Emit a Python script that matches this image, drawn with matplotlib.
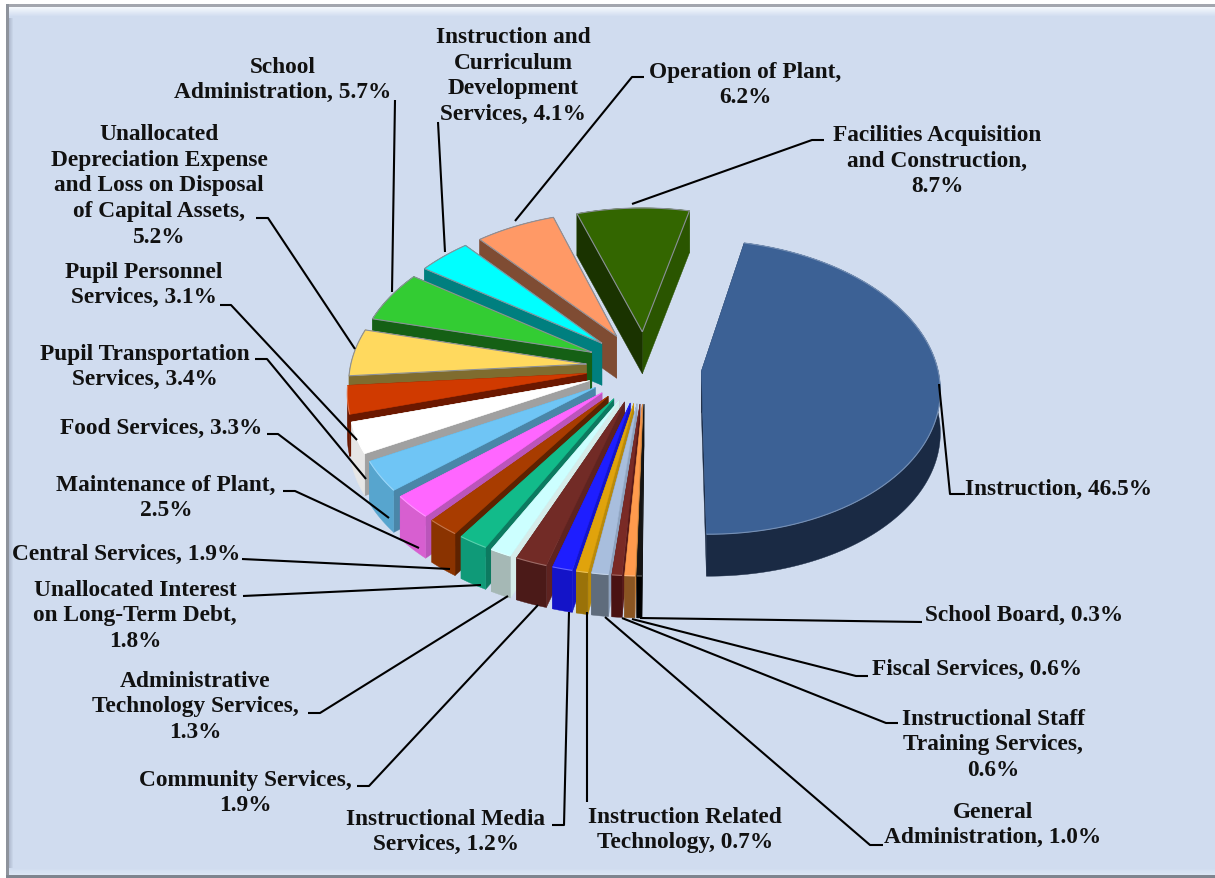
import numpy as np
import matplotlib
matplotlib.use("Agg")
import matplotlib.pyplot as plt
from matplotlib.colors import to_rgb
from matplotlib.patches import Polygon, Rectangle

# Share of total expenses by function, clockwise from the largest slice.
# A name ending in a line break puts the percentage on a line of its own.
names = [
    "Instruction, ", "School Board, ", "Fiscal Services, ",
    "Instructional Staff\nTraining Services,\n", "General\nAdministration, ",
    "Instruction Related\nTechnology, ", "Instructional Media\nServices, ",
    "Community Services,\n", "Administrative\nTechnology Services,\n",
    "Unallocated Interest\non Long-Term Debt,\n", "Central Services, ",
    "Maintenance of Plant,\n", "Food Services, ",
    "Pupil Transportation\nServices, ", "Pupil Personnel\nServices, ",
    "Unallocated\nDepreciation Expense\nand Loss on Disposal\nof Capital Assets,\n",
    "School\nAdministration, ", "Instruction and\nCurriculum\nDevelopment\nServices, ",
    "Operation of Plant,\n", "Facilities Acquisition\nand Construction,\n",
]
shares = [46.5, 0.3, 0.6, 0.6, 1.0, 0.7, 1.2, 1.9, 1.3, 1.8, 1.9, 2.5, 3.3, 3.4,
          3.1, 5.2, 5.7, 4.1, 6.2, 8.7]

top_colors = ["#3C6195", "#141414", "#FF9A4D", "#7A2A25", "#A8BEDD", "#E0A30C",
              "#1E1EFF", "#722B26", "#CCFFFF", "#12BB8A", "#A83C00", "#FF66FF",
              "#6FC5F5", "#FFFFFF", "#D03A00", "#FFD95E", "#33CC33", "#00FFFF",
              "#FF9966", "#336600"]
rim_colors = ["#1A2A44", "#000000", "#8A5522", "#4A1212", "#5F6C7C", "#9A7209",
              "#1414C8", "#4B1A18", "#A5B8B5", "#0F9A78", "#8A3300", "#D75FD0",
              "#57A5CE", "#E6E6E6", "#6B1800", "#7F6C2F", "#156015", "#007F7F",
              "#7F4C33", "#2A5500"]
wall_colors = ["#1A2A44", "#000000", "#C98038", "#5A1A18", "#8FA3BF", "#B98A0A",
               "#1414C8", "#5E2320", "#D5ECEA", "#0C7A60", "#5E2200", "#BB55BB",
               "#4A86A8", "#A0A0A0", "#6B1800", "#7F6C2F", "#156015", "#007F7F",
               "#7F4C33", "#1A3300"]

# Projection of the tilted pie onto the page, in pixels
FIG_W, FIG_H = 1215, 879
CX, CY = 645, 368
RX, RY = 236, 144.5
PERSPECTIVE = 0.1086
EXPLODE = 0.25
LARGEST_EXPLODE = 0.24
DEPTH = 42
FIRST_ANGLE = 13.0


def project(u, v):
    s = 1 + PERSPECTIVE * np.asarray(v, dtype=float)
    return CX + RX * np.asarray(u) / s, CY - RY * np.asarray(v) / s


def slice_outline(a0, a1, explode):
    """Apex and rim of one exploded slice, angles clockwise from the far side."""
    mid = np.radians((a0 + a1) / 2)
    ox, oy = explode * np.sin(mid), explode * np.cos(mid)
    th = np.radians(np.linspace(a0, a1, max(int((a1 - a0) * 2), 6)))
    ax, ay = project(ox, oy)
    rx, ry = project(ox + np.sin(th), oy + np.cos(th))
    return (float(ax), float(ay)), np.column_stack([rx, ry])


def blend(c0, c1, t):
    return tuple(a + (b - a) * t for a, b in zip(to_rgb(c0), to_rgb(c1)))


fig = plt.figure(figsize=(FIG_W / 100, FIG_H / 100), dpi=100, facecolor="white")
ax = fig.add_axes([0, 0, 1, 1])
ax.set_xlim(0, FIG_W)
ax.set_ylim(FIG_H, 0)
ax.axis("off")


def edge_band(xy, w, h, c0, c1, steps, horizontal, z=1):
    for i in range(steps):
        col = blend(c0, c1, i / (steps - 1))
        if horizontal:
            ax.add_patch(Rectangle((xy[0], xy[1] + i * h / steps), w, h / steps + .5,
                                   fc=col, ec="none", zorder=z))
        else:
            ax.add_patch(Rectangle((xy[0] + i * w / steps, xy[1]), w / steps + .5, h,
                                   fc=col, ec="none", zorder=z))


# Chart area with its bevelled frame
BG = "#D0DCEF"
ax.add_patch(Rectangle((6, 5), FIG_W - 6, FIG_H - 7, fc=BG, ec="none", zorder=0))
edge_band((8, 16), 6, FIG_H - 24, "#A9B4C8", BG, 6, False)
edge_band((8, 8), FIG_W - 8, 10, "#F4F8FD", BG, 10, True)
edge_band((8, FIG_H - 10), FIG_W - 8, 7, BG, "#DCE6F4", 6, True)
ax.add_patch(Rectangle((6, 5), FIG_W - 6, 3, fc="#A3A6AE", ec="none", zorder=2))
ax.add_patch(Rectangle((6, 5), 2.5, FIG_H - 7, fc="#8E939C", ec="none", zorder=2))
ax.add_patch(Rectangle((6, FIG_H - 3), FIG_W - 6, 3, fc="#7F858F", ec="none", zorder=2))

# Slices are painted from the far side of the pie toward the viewer
edges = FIRST_ANGLE + np.cumsum([0] + shares) * 3.6
mids = (edges[:-1] + edges[1:]) / 2
order = sorted(range(len(shares)), key=lambda i: -np.cos(np.radians(mids[i])))
drop = np.array([0, DEPTH])
for z, i in enumerate(order):
    explode = LARGEST_EXPLODE if shares[i] == max(shares) else EXPLODE
    apex, rim = slice_outline(edges[i], edges[i + 1], explode)
    zo = 3 + z * 0.01
    is_far = np.cos(np.radians(mids[i])) > 0 and shares[i] != max(shares)

    band = np.vstack([rim, (rim + drop)[::-1]])
    start_wall = [apex, rim[0], rim[0] + drop, np.array(apex) + drop]
    end_wall = [apex, rim[-1], rim[-1] + drop, np.array(apex) + drop]
    parts = [(end_wall, rim_colors[i]), (start_wall, wall_colors[i]), (band, rim_colors[i])]
    if is_far:
        parts = [parts[2], parts[0], parts[1]]
    for pts, color in parts:
        ax.add_patch(Polygon(pts, closed=True, fc=color, ec=color, lw=.3, zorder=zo))

    top = np.vstack([[apex], rim])
    ax.add_patch(Polygon(top, closed=True, fc=top_colors[i], ec=top_colors[i], lw=.4,
                         zorder=zo + 0.001))
    # Thin lit edge along the outer rim
    edge = "#8A8F99" if is_far else blend(top_colors[i], "#FFFFFF", 0.3)
    outline = np.vstack([[apex], rim, [apex]]) if is_far else rim
    ax.plot(outline[:, 0], outline[:, 1], color=edge, lw=.8, zorder=zo + 0.002,
            solid_capstyle="butt")

# Label anchors and leader lines, one entry per slice
label_pos = [
    (1059, 489), (1024, 615), (977, 669), (993, 745), (993, 825), (685, 830),
    (446, 832), (245, 793), (195, 707), (135, 616), (126, 554), (166, 498),
    (161, 428), (145, 367), (144, 285), (159, 186), (283, 80), (513, 76),
    (745, 85), (937, 161),
]
leaders = [
    [(939, 385), (950, 495), (965, 495)],
    [(640, 619), (922, 623)],
    [(632, 620), (856, 677), (868, 677)],
    [(622, 619), (886, 724), (898, 724)],
    [(605, 618), (870, 846), (883, 846)],
    [(587, 613), (587, 803)],
    [(569, 613), (564, 826), (552, 826)],
    [(538, 606), (369, 787), (357, 787)],
    [(508, 597), (320, 714), (308, 714)],
    [(481, 586), (243, 597)],
    [(450, 570), (242, 560)],
    [(419, 549), (295, 492), (283, 492)],
    [(389, 519), (278, 435), (267, 435)],
    [(366, 480), (267, 360), (255, 360)],
    [(357, 441), (231, 306), (220, 306)],
    [(355, 350), (268, 219), (256, 219)],
    [(392, 293), (395, 101)],
    [(445, 253), (438, 123)],
    [(515, 222), (632, 78), (644, 78)],
    [(632, 205), (812, 141), (824, 141)],
]

for name, share, (tx, ty), path in zip(names, shares, label_pos, leaders):
    xs, ys = zip(*path)
    ax.plot(xs, ys, color="black", lw=1.5, solid_capstyle="butt", zorder=5)
    ax.text(tx, ty, f"{name}{share:.1f}%", ha="center", va="center",
            family="Liberation Serif", weight="bold", fontsize=16.8,
            linespacing=1.3, color="#111111", zorder=6)

fig.savefig("out.png", dpi=100)
